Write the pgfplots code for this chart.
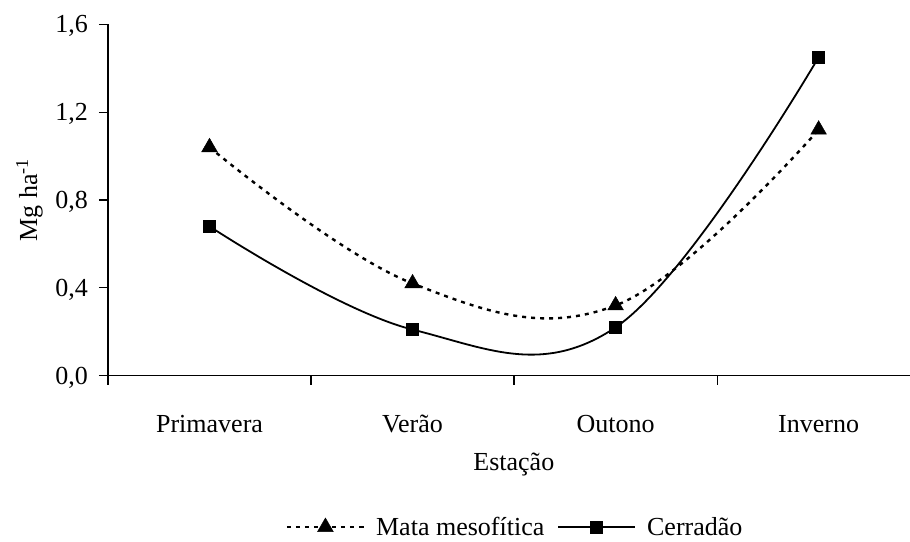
\documentclass[border=0pt]{standalone}
\usepackage{pgfplots}
\pgfplotsset{compat=1.18}
\usepackage{fontspec}
\setmainfont{Liberation Serif}
\begin{document}
\begin{tikzpicture}[font=\fontsize{26bp}{31bp}\selectfont]
\begin{axis}[
  scale only axis,
  width=802bp, height=351.4bp,
  xmin=-0.5, xmax=3.45, ymin=0, ymax=1.6,
  axis x line=bottom, axis y line=left,
  axis line style={-, line width=1.2bp, black},
  tick align=outside,
  major tick length=9bp, minor tick length=9bp,
  tick style={black, line width=1.2bp},
  xtick={0,1,2,3},
  xticklabels={Primavera,Verão,Outono,Inverno},
  major x tick style={draw=none},
  minor xtick={-0.5,0.5,1.5,2.5},
  ytick={0,0.4,0.8,1.2,1.6},
  /pgf/number format/use comma,
  /pgf/number format/fixed,
  /pgf/number format/fixed zerofill,
  /pgf/number format/precision=1,
  /pgf/number format/assume math mode=true,
  yticklabel style={anchor=base east, inner sep=0pt, xshift=-11bp, yshift=-8.5bp},
  xticklabel style={anchor=base, inner sep=0pt, yshift=-47.3bp},
  xlabel={Estação},
  xlabel style={at={(axis description cs:0.506,0)}, anchor=base, inner sep=0pt, yshift=-94.3bp},
  ylabel={Mg ha\textsuperscript{-1}},
  ylabel style={at={(axis description cs:-0.0885,0.5)}, anchor=base, inner sep=0pt},
  legend style={at={(axis cs:1.5,-0.689)}, anchor=center, draw=none, fill=none,
    inner sep=0pt, nodes={inner sep=0pt},
    /tikz/every odd column/.append style={column sep=11bp},
    /tikz/every even column/.append style={column sep=13bp}},
  legend columns=2,
  legend image code/.code={\draw[mark repeat=2, mark phase=2] plot coordinates {(0bp,0bp) (38.5bp,0bp) (77bp,0bp)};},
  clip=false,
]
\coordinate (O) at (rel axis cs:0,0);
\addplot[black, line width=2.4bp, dash pattern=on 4bp off 5bp, smooth, tension=0.65, mark=triangle*, mark size=9bp, mark options={solid, line width=0.5bp}]
  coordinates {(0,1.04) (1,0.42) (2,0.32) (3,1.12)};
\addlegendentry{Mata mesofítica}
\addplot[black, line width=1.8bp, smooth, tension=0.65, mark=square*, mark size=6bp, mark options={solid, line width=0.5bp}]
  coordinates {(0,0.68) (1,0.21) (2,0.22) (3,1.45)};
\addlegendentry{Cerradão}
\end{axis}
\pgfresetboundingbox
\path[use as bounding box] (O) ++(-108bp,-166.3bp) rectangle ++(910bp,542bp);
\end{tikzpicture}
\end{document}
